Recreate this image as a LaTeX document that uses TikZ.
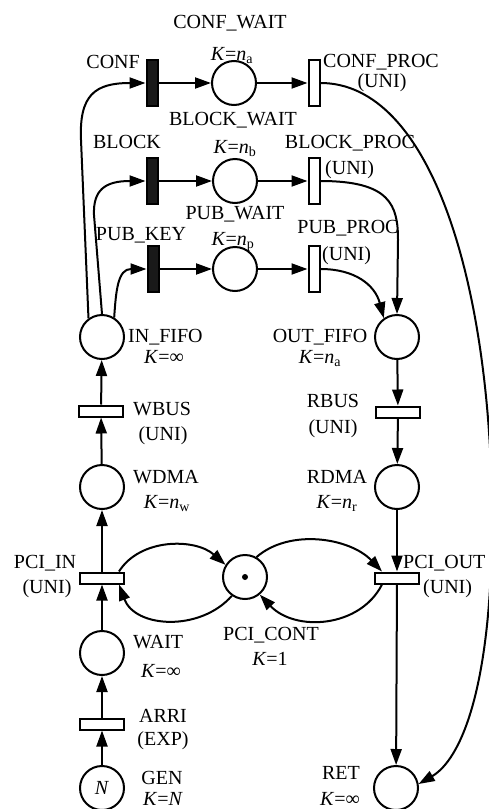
\documentclass[tikz,border=0pt]{standalone}
\usepackage{fontspec}
\setmainfont{Liberation Serif}
\usetikzlibrary{arrows.meta}
\newcommand\Kn[1]{\textit{K}=\textit{n}\textsubscript{#1}}
\newcommand\Kinf{\textit{K}=∞}
\begin{document}
\begin{tikzpicture}[x=1pt,y=-1pt,
  place/.style={circle,draw,line width=2pt,minimum size=44pt,inner sep=0pt,font=\fontsize{20}{24}\selectfont},
  vtrans/.style={rectangle,draw,line width=2pt,minimum width=11pt,minimum height=46pt,inner sep=0pt},
  htrans/.style={rectangle,draw,line width=2pt,minimum width=44pt,minimum height=11pt,inner sep=0pt},
  blk/.style={fill=black!90},
  arc/.style={line width=2pt,-{Triangle[length=16pt,width=11pt]}},
  lbl/.style={inner sep=0pt,font=\fontsize{20}{24}\selectfont}
]
\useasboundingbox (0,0) rectangle (489,809);
% places
\node[place] (cwait) at (234,83) {};
\node[place] (bwait) at (235,181) {};
\node[place] (pwait) at (235,269) {};
\node[place] (infifo) at (102,337) {};
\node[place] (outfifo) at (397,337) {};
\node[place] (wdma) at (102,487) {};
\node[place] (rdma) at (397,487) {};
\node[place] (pcicont) at (245,577) {};
\node[place] (wait) at (102,653) {};
\node[place] (gen) at (102,788) {\textit{N}};
\node[place] (ret) at (396,788) {};
\node[circle,fill,inner sep=0pt,minimum size=6pt] (token) at (245,577) {};
% transitions
\node[vtrans,blk] (conf) at (152,83) {};
\node[vtrans,blk] (block) at (152,181) {};
\node[vtrans,blk] (pubkey) at (153,269) {};
\node[vtrans] (cproc) at (314,83) {};
\node[vtrans] (bproc) at (314,181) {};
\node[vtrans] (pproc) at (314,269) {};
\node[htrans] (wbus) at (101,411) {};
\node[htrans] (rbus) at (398,412) {};
\node[htrans] (pciin) at (102,578) {};
\node[htrans] (pciout) at (397,578) {};
\node[htrans] (arri) at (102,724) {};
% labels
\node[lbl,anchor=base] (lcw) at (230,28) {CONF\_WAIT};
\node[lbl,anchor=base] (lcwk) at (232,60) {\Kn{a}};
\node[lbl,anchor=base east] (lconf) at (140,68) {CONF};
\node[lbl,anchor=base west] (lcp) at (323,67) {CONF\_PROC};
\node[lbl,anchor=base] (lcpu) at (382,87) {(UNI)};
\node[lbl,anchor=base] (lbw) at (233,125) {BLOCK\_WAIT};
\node[lbl,anchor=base] (lblock) at (127,148) {BLOCK};
\node[lbl,anchor=base] (lbwk) at (235,153) {\Kn{b}};
\node[lbl,anchor=base] (lbp) at (350,148) {BLOCK\_PROC};
\node[lbl,anchor=base west] (lbpu) at (325,174) {(UNI)};
\node[lbl,anchor=base] (lpw) at (235,219) {PUB\_WAIT};
\node[lbl,anchor=base] (lpk) at (141,240) {PUB\_KEY};
\node[lbl,anchor=base] (lpwk) at (233,245) {\Kn{p}};
\node[lbl,anchor=base] (lpp) at (348,233) {PUB\_PROC};
\node[lbl,anchor=base west] (lppu) at (322,260) {(UNI)};
\node[lbl,anchor=base west] (lif) at (128,342) {IN\_FIFO};
\node[lbl,anchor=base] (lifk) at (164,363) {\Kinf};
\node[lbl,anchor=base] (lof) at (320,342) {OUT\_FIFO};
\node[lbl,anchor=base] (lofk) at (320,363) {\Kn{a}};
\node[lbl,anchor=base west] (lwb) at (133,415) {WBUS};
\node[lbl,anchor=base] (lwbu) at (163,440) {(UNI)};
\node[lbl,anchor=base] (lrb) at (333,407) {RBUS};
\node[lbl,anchor=base] (lrbu) at (333,433) {(UNI)};
\node[lbl,anchor=base west] (lwd) at (133,483) {WDMA};
\node[lbl,anchor=base] (lwdk) at (167,508) {\Kn{w}};
\node[lbl,anchor=base] (lrd) at (337,483) {RDMA};
\node[lbl,anchor=base] (lrdk) at (337,508) {\Kn{r}};
\node[lbl,anchor=base] (lpi) at (45,568) {PCI\_IN};
\node[lbl,anchor=base] (lpiu) at (47,593) {(UNI)};
\node[lbl,anchor=base west] (lpo) at (403,568) {PCI\_OUT};
\node[lbl,anchor=base west] (lpou) at (423,593) {(UNI)};
\node[lbl,anchor=base] (lpc) at (271,640) {PCI\_CONT};
\node[lbl,anchor=base] (lpck) at (270,665) {\textit{K}=1};
\node[lbl,anchor=base west] (lwt) at (133,648) {WAIT};
\node[lbl,anchor=base] (lwtk) at (161,677) {\Kinf};
\node[lbl,anchor=base] (lar) at (163,722) {ARRI};
\node[lbl,anchor=base] (lare) at (163,745) {(EXP)};
\node[lbl,anchor=base] (lgen) at (162,784) {GEN};
\node[lbl,anchor=base] (lgenk) at (163,805) {\textit{K}=\textit{N}};
\node[lbl,anchor=base] (lret) at (341,779) {RET};
\node[lbl,anchor=base] (lretk) at (340,805) {\Kinf};
% straight arcs in rows
\draw[arc] (conf) -- (cwait);
\draw[arc] (cwait) -- (cproc);
\draw[arc] (block) -- (bwait);
\draw[arc] (bwait) -- (bproc);
\draw[arc] (pubkey) -- (pwait);
\draw[arc] (pwait) -- (pproc);
% left column
\draw[arc] (gen) -- (arri);
\draw[arc] (arri) -- (wait);
\draw[arc] (wait) -- (pciin);
\draw[arc] (pciin) -- (wdma);
\draw[arc] (wdma) -- (wbus);
\draw[arc] (wbus) -- (infifo);
% right column
\draw[arc] (outfifo) -- (rbus);
\draw[arc] (rbus) -- (rdma);
\draw[arc] (rdma) -- (pciout);
\draw[arc] (pciout) -- (ret);
% IN_FIFO fan-out
\draw[arc] (infifo.126) -- (81,140) .. controls (79,95) and (95,83) .. (conf.west);
\draw[arc] (infifo.north) -- (94,215) .. controls (93,190) and (105,181) .. (block.west);
\draw[arc] (infifo.58) .. controls (116,290) and (118,269) .. (pubkey.west);
% to OUT_FIFO
\draw[arc] (bproc.east) .. controls (390,181) and (398,205) .. (398,240) -- (outfifo.north);
\draw[arc] (pproc.east) .. controls (355,269) and (375,285) .. (outfifo.125);
% long curve to RET
\draw[arc] (cproc.east) .. controls (430,83) and (490,280) .. (492,510) .. controls (493,690) and (460,760) .. (ret.10);
% PCI arcs
\draw[arc] ([xshift=-6pt]pciin.north east) .. controls (140,538) and (195,538) .. (pcicont.148);
\draw[arc] (pcicont.235) .. controls (200,632) and (135,628) .. ([xshift=-6pt]pciin.south east);
\draw[arc] (pcicont.60) .. controls (290,528) and (350,538) .. ([xshift=8pt]pciout.north west);
\draw[arc] ([xshift=8pt]pciout.south west) .. controls (360,628) and (295,632) .. (pcicont.310);
\end{tikzpicture}
\end{document}
